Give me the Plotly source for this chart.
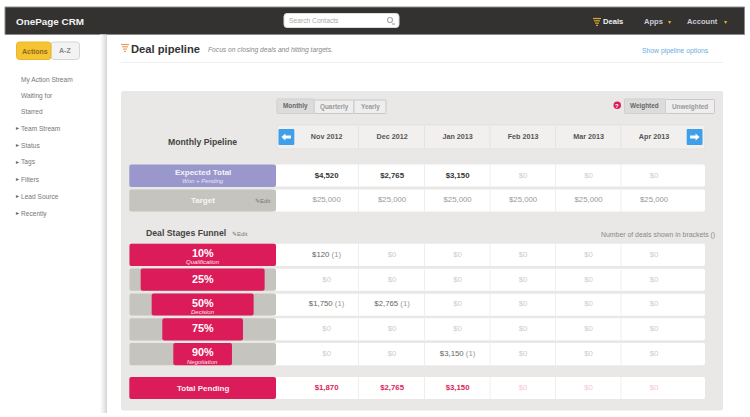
import plotly.graph_objects as go

months = ["Nov 2012", "Dec 2012", "Jan 2013", "Feb 2013", "Mar 2013", "Apr 2013"]
expected_total = [4520, 2765, 3150, 0, 0, 0]
target = [25000, 25000, 25000, 25000, 25000, 25000]
total_pending = [1870, 2765, 3150, 0, 0, 0]

stages = ["10%", "25%", "50%", "75%", "90%"]
stage_names = ["Qualification", "", "Decision", "", "Negotiation"]
stage_widths = [100, 84.5, 69.5, 55, 40]
stage_values = [
    [120, 0, 0, 0, 0, 0],
    [0, 0, 0, 0, 0, 0],
    [1750, 2765, 0, 0, 0, 0],
    [0, 0, 0, 0, 0, 0],
    [0, 0, 3150, 0, 0, 0],
]
stage_counts = [
    [1, 0, 0, 0, 0, 0],
    [0, 0, 0, 0, 0, 0],
    [1, 1, 0, 0, 0, 0],
    [0, 0, 0, 0, 0, 0],
    [0, 0, 1, 0, 0, 0],
]
sidebar_plain = ["My Action Stream", "Waiting for", "Starred"]
sidebar_arrow = ["Team Stream", "Status", "Tags", "Filters", "Lead Source", "Recently"]

W, H = 750, 417
FONT = "Liberation Sans"
RED = "#dc1c5a"
TRACK = "#c6c4bf"
PANEL = "#e9e8e6"

shapes = []
notes = []


def rrect(x0, y0, x1, y1, r=2, fill="white", line=None):
    path = (f"M{x0+r},{y0} L{x1-r},{y0} Q{x1},{y0} {x1},{y0+r} L{x1},{y1-r} Q{x1},{y1} {x1-r},{y1} "
            f"L{x0+r},{y1} Q{x0},{y1} {x0},{y1-r} L{x0},{y0+r} Q{x0},{y0} {x0+r},{y0} Z")
    shapes.append(dict(type="path", path=path, xref="x", yref="y", fillcolor=fill, layer="below",
                       line=dict(width=1 if line else 0, color=line or fill)))


def hline(x0, x1, y, color, width=1):
    shapes.append(dict(type="line", x0=x0, x1=x1, y0=y, y1=y, xref="x", yref="y", layer="below",
                       line=dict(color=color, width=width)))


def vline(x, y0, y1, color, width=1):
    shapes.append(dict(type="line", x0=x, x1=x, y0=y0, y1=y1, xref="x", yref="y", layer="below",
                       line=dict(color=color, width=width)))


def label(x, y, text, size=8, color="#666666", anchor="center", bold=False, italic=False):
    if bold:
        text = f"<b>{text}</b>"
    if italic:
        text = f"<i>{text}</i>"
    if anchor == "left":
        x -= 1.5
    notes.append(dict(x=x, y=y, xref="x", yref="y", text=text, showarrow=False, xanchor=anchor,
                      yanchor="middle", borderpad=0, font=dict(family=FONT, size=size, color=color)))


def funnel_icon(x, y, color):
    for i, half in enumerate([4, 3, 2, 1]):
        hline(x - half, x + half, y + i * 2.3, color, 1.2)


def arrow(cx, cy, direction):
    d = direction
    path = (f"M{cx-5*d},{cy} L{cx-1*d},{cy-3.5} L{cx-1*d},{cy-1.5} L{cx+4.5*d},{cy-1.5} "
            f"L{cx+4.5*d},{cy+1.5} L{cx-1*d},{cy+1.5} L{cx-1*d},{cy+3.5} Z")
    shapes.append(dict(type="path", path=path, xref="x", yref="y", fillcolor="white",
                       line=dict(width=0), layer="below"))


def money(v):
    return f"${v:,}"


# top bar
rrect(5, 7, 744.5, 34.5, r=0, fill="#333230", line="#8a8a88")
label(16, 21, "OnePage CRM", size=9.9, color="#f2f2f2", anchor="left", bold=True)
rrect(284, 13.5, 399, 27.5, r=3, fill="white", line="#dddddd")
label(289, 20.5, "Search Contacts", size=6.7, color="#aaaaaa", anchor="left")
shapes.append(dict(type="circle", x0=387.5, x1=392.5, y0=17.5, y1=22.5, xref="x", yref="y",
                   line=dict(color="#aaaaaa", width=1.2), fillcolor="white"))
hline(392, 395, 24, "#aaaaaa", 1.2)
funnel_icon(597, 18.5, "#d9a92e")
label(603.5, 21, "Deals", size=7.6, color="#f0f0f0", anchor="left", bold=True)
label(644, 21, "Apps", size=7.6, color="#c9c9d6", anchor="left", bold=True)
label(669, 21.5, "▾", size=6, color="#e0b030")
label(687, 21, "Account", size=7.6, color="#c9c9d6", anchor="left", bold=True)
label(725.5, 21.5, "▾", size=6, color="#e0b030")

# sidebar
for i, c in enumerate(["#fbfbfb", "#f7f7f7", "#f2f2f2", "#ececec", "#e6e6e6", "#dfdfdf", "#d8d8d8"]):
    shapes.append(dict(type="rect", x0=100 + i, x1=101 + i, y0=34.5, y1=413, xref="x", yref="y",
                       fillcolor=c, line=dict(width=0), layer="below"))
rrect(51, 42, 79.5, 59.5, r=3, fill="#f3f3f3", line="#d5d5d5")
rrect(16.5, 42, 51, 59.5, r=3, fill="#f6c433", line="#e8b82c")
label(34.5, 51, "Actions", size=7, color="#8a6a1a", bold=True)
label(65, 50.5, "A-Z", size=7, color="#888888", bold=True)
for name, y in zip(sidebar_plain, [79.5, 95.5, 111.5]):
    label(21.5, y, name, size=6.6, color="#777777", anchor="left")
for name, y in zip(sidebar_arrow, [128, 145, 162, 179, 196.5, 213.5]):
    label(17.5, y - 0.3, "▸", size=6, color="#666666")
    label(21.5, y, name, size=6.6, color="#777777", anchor="left")

# page header
funnel_icon(125, 44.5, "#e8a060")
label(131.5, 48.5, "Deal pipeline", size=11.2, color="#333333", anchor="left", bold=True)
label(208, 50, "Focus on closing deals and hitting targets.", size=6.7, color="#888888",
      anchor="left", italic=True)
label(642.5, 50.5, "Show pipeline options", size=6.8, color="#6aaee0", anchor="left")
hline(121, 723, 62.5, "#f0f0f0")

# panel
rrect(121, 91, 723, 410.5, r=2, fill=PANEL)

# period tabs
rrect(314, 100, 354, 113.5, r=1, fill="#eeeeee", line="#c8c8c8")
rrect(354, 100, 386, 113.5, r=1, fill="#eeeeee", line="#c8c8c8")
rrect(277, 99, 314, 113.5, r=1, fill="#dcdcdc", line="#cfcfcf")
label(295, 106, "Monthly", size=6.4, color="#666666", bold=True)
label(334, 107, "Quarterly", size=6.4, color="#999999", bold=True)
label(370, 107, "Yearly", size=6.4, color="#999999", bold=True)
rrect(665.5, 99.5, 714.5, 113.5, r=1, fill="#eeeeee", line="#c8c8c8")
rrect(624.5, 99, 665.5, 113.5, r=1, fill="#dcdcdc", line="#cfcfcf")
label(644.5, 106, "Weighted", size=6.4, color="#666666", bold=True)
label(690, 107, "Unweighted", size=6.4, color="#999999", bold=True)
shapes.append(dict(type="circle", x0=613.5, x1=621, y0=101.5, y1=109, xref="x", yref="y",
                   fillcolor=RED, line=dict(width=0), layer="below"))
label(617.3, 105.5, "?", size=6, color="white", bold=True)

# month header
label(202.5, 142, "Monthly Pipeline", size=8.7, color="#444444", bold=True)
rrect(277, 125, 705, 149, r=2, fill="#f1f0ef", line="#e2e1df")
for x in [358.5, 424.5, 490, 555.5, 621]:
    vline(x, 126, 148.5, "#e4e3e1")
for x0 in [278.5, 686.7]:
    rrect(x0, 129, x0 + 15.8, 145, r=1, fill="#3f9fe8")
arrow(286.4, 137, 1)
arrow(694.6, 137, -1)

# white value rows
for y0, y1 in [(164.5, 186.5), (189.5, 211.5), (243.7, 266), (268.7, 290.7), (293.7, 315.7),
               (318.3, 340.3), (343, 365.3), (377, 399)]:
    rrect(270, y0, 705, y1, r=2, fill="white")
    for x in [358.5, 424.5, 490, 555.5, 621]:
        vline(x, y0, y1, "#efeeec")

# left row headers
rrect(129.3, 164.5, 276, 187, r=2, fill="#9a97cc")
label(202.5, 172.5, "Expected Total", size=8, color="#f4f4fa", bold=True)
label(202.5, 180.5, "Won + Pending", size=6, color="#e6e6f4", italic=True)
rrect(129.3, 189.5, 276, 211.5, r=2, fill=TRACK)
label(202.5, 200.5, "Target", size=8, color="#f7f7f5", bold=True)
label(262.5, 200.5, "✎Edit", size=6, color="#777777")

label(146, 232.5, "Deal Stages Funnel", size=8.7, color="#444444", anchor="left", bold=True)
label(240, 233.5, "✎Edit", size=6, color="#777777")
label(601, 234.5, "Number of deals shown in brackets ()", size=6.9, color="#888888", anchor="left")

rrect(129.3, 377, 276, 399, r=2, fill=RED)
label(202.5, 388, "Total Pending", size=8, color="#fbeef2", bold=True)


def month_text(values, color, zero_color, bold=False):
    texts = [f"<b>{money(v)}</b>" if bold and v else money(v) for v in values]
    colors = [color if v else zero_color for v in values]
    return texts, colors


fig = go.Figure()

# funnel tracks and bars
fig.add_trace(go.Bar(y=stages, x=[100] * len(stages), base=[-50] * len(stages), orientation="h",
                     marker=dict(color=TRACK, line=dict(width=0)), xaxis="x2", yaxis="y2",
                     hoverinfo="skip"))
fig.add_trace(go.Bar(y=stages, x=stage_widths, base=[-w / 2 for w in stage_widths], orientation="h",
                     marker=dict(color=RED, line=dict(width=0)), xaxis="x2", yaxis="y2",
                     hoverinfo="skip"))

for stage, name in zip(stages, stage_names):
    notes.append(dict(x=0, y=stage, xref="x2", yref="y2", text=f"<b>{stage}</b>", showarrow=False,
                      yshift=2 if name else 1, font=dict(family=FONT, size=10.8, color="white")))
    if name:
        notes.append(dict(x=0, y=stage, xref="x2", yref="y2", text=f"<i>{name}</i>", showarrow=False,
                          yshift=-7.5, font=dict(family=FONT, size=6, color="#fbe3ea")))

# month values, top block
for name, values, color, zero, bold in [("Expected", expected_total, "#333333", "#cccccc", True),
                                        ("Target", target, "#999999", "#cccccc", False)]:
    texts, colors = month_text(values, color, zero, bold)
    fig.add_trace(go.Scatter(x=months, y=[name] * len(months), mode="text", text=texts,
                             textfont=dict(family=FONT, size=7.8, color=colors),
                             xaxis="x3", yaxis="y3", hoverinfo="skip"))

# month values, funnel rows
for stage, values, counts in zip(stages, stage_values, stage_counts):
    texts = [f'{money(v)} <span style="color:#999999">({c})</span>' if c else money(v)
             for v, c in zip(values, counts)]
    colors = ["#666666" if v else "#cccccc" for v in values]
    fig.add_trace(go.Scatter(x=months, y=[stage] * len(months), mode="text", text=texts,
                             textfont=dict(family=FONT, size=7.8, color=colors),
                             xaxis="x3", yaxis="y2", hoverinfo="skip"))

# total pending
texts, colors = month_text(total_pending, RED, "#f7c4d4", True)
fig.add_trace(go.Scatter(x=months, y=["Total"] * len(months), mode="text", text=texts,
                         textfont=dict(family=FONT, size=7.8, color=colors),
                         xaxis="x3", yaxis="y4", hoverinfo="skip"))

# month names
fig.add_trace(go.Scatter(x=months, y=["Month"] * len(months), mode="text",
                         text=[f"<b>{m}</b>" for m in months],
                         textfont=dict(family=FONT, size=7.2, color="#555555"),
                         xaxis="x3", yaxis="y5", hoverinfo="skip"))


def dx(a, b):
    return [a / W, b / W]


def dy(top, bottom):
    return [1 - bottom / H, 1 - top / H]


hidden = dict(visible=False, showgrid=False, zeroline=False)
fig.update_layout(
    width=W, height=H, margin=dict(l=0, r=0, t=0, b=0), autosize=False,
    paper_bgcolor="white", plot_bgcolor="rgba(0,0,0,0)", showlegend=False,
    barmode="overlay", bargap=0.105, barcornerradius=2,
    shapes=shapes, annotations=notes,
    xaxis=dict(range=[0, W], domain=[0, 1], **hidden),
    yaxis=dict(range=[H, 0], domain=[0, 1], **hidden),
    xaxis2=dict(range=[-50, 50], domain=dx(129.3, 276), anchor="y2", **hidden),
    yaxis2=dict(type="category", categoryorder="array", categoryarray=stages, range=[4.5, -0.5],
                domain=dy(242.4, 366.6), anchor="x2", **hidden),
    xaxis3=dict(type="category", categoryorder="array", categoryarray=months, range=[-0.5, 5.5],
                domain=dx(293.9, 686.8), anchor="y3", **hidden),
    yaxis3=dict(type="category", categoryorder="array", categoryarray=["Expected", "Target"],
                range=[1.5, -0.5], domain=dy(163.3, 212.7), anchor="x3", **hidden),
    yaxis4=dict(type="category", range=[-0.5, 0.5], domain=dy(377, 399), anchor="x3", **hidden),
    yaxis5=dict(type="category", range=[-0.5, 0.5], domain=dy(125, 149), anchor="x3", **hidden),
)

fig.write_html("out.html", config=dict(displayModeBar=False),
               post_script="document.body.style.margin='0';")
